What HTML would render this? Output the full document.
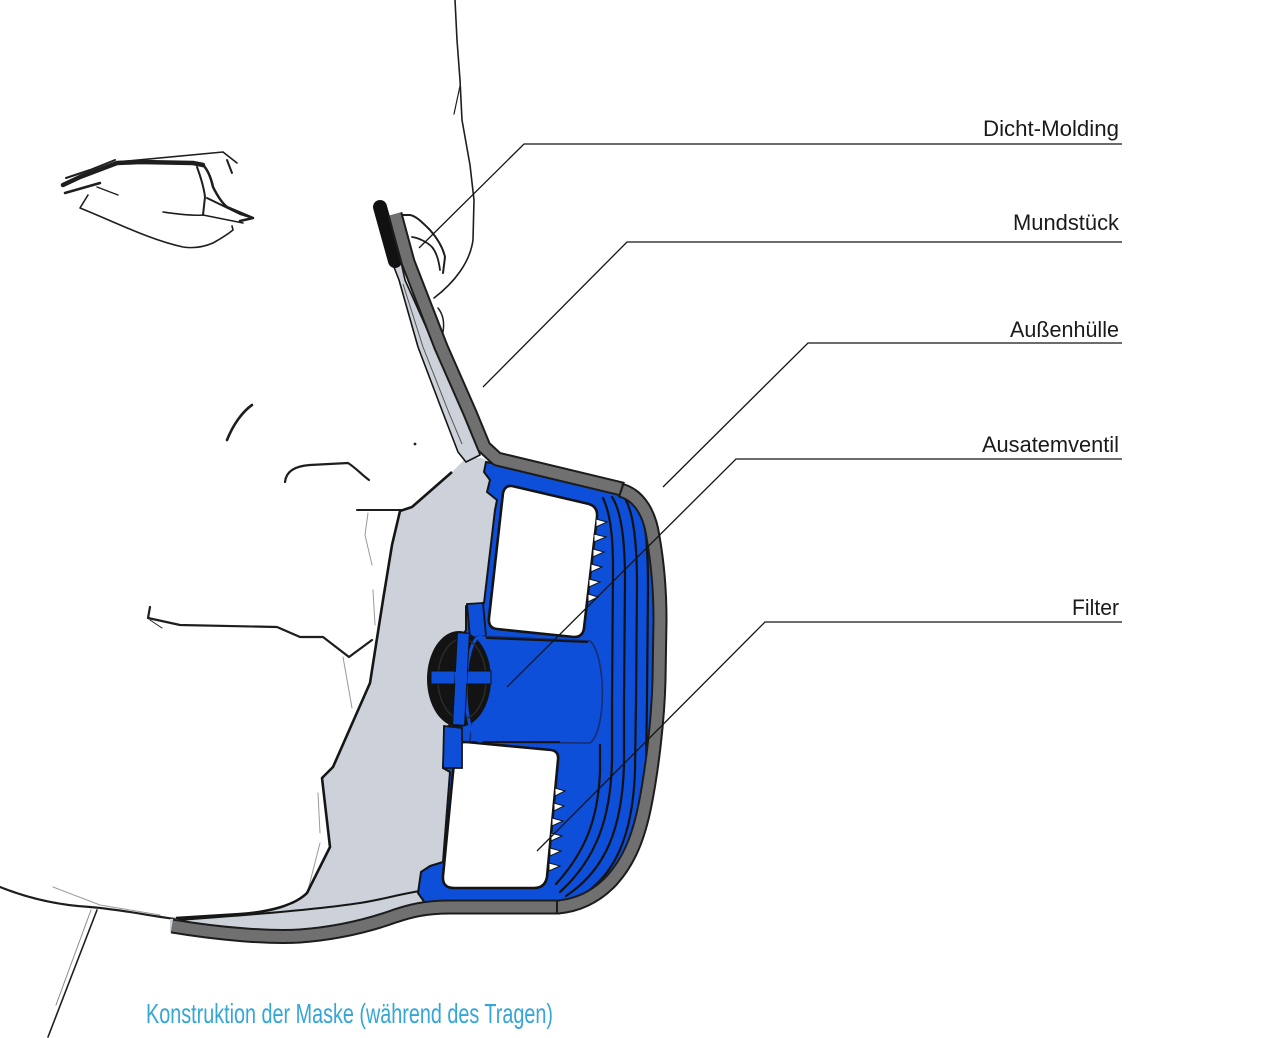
<!DOCTYPE html>
<html>
<head>
<meta charset="utf-8">
<style>
html,body{margin:0;padding:0;background:#fff;}
svg{display:block;}
</style>
</head>
<body>
<svg width="1264" height="1038" viewBox="0 0 1264 1038" xmlns="http://www.w3.org/2000/svg">
<rect width="1264" height="1038" fill="#ffffff"/>

<!-- ===== Face line drawing ===== -->
<g fill="none" stroke="#1e1e1e" stroke-linecap="round" stroke-linejoin="round">
  <path d="M455,0 L457,40 L460,80 L462,120 L470,165 L474,200 L473,240 C470,262 455,282 434,298" stroke-width="1.6"/>
  <path d="M460,86 L454,114" stroke-width="1.2"/>
  <!-- eye -->
  <path d="M63,185 L80,177 L117,163 L140,162 L193,163 L203,165" stroke-width="4.5"/>
  <path d="M66,178 L90,170 L115,160" stroke-width="2"/>
  <path d="M65,193 L100,183" stroke-width="2.5"/>
  <path d="M117,162 L223,152 L237,163" stroke-width="1.6"/>
  <path d="M227,160 L232,173" stroke-width="2"/>
  <path d="M203,165 C208,170 211,178 213,187 C218,197 222,203 227,207 L253,218 L240,221" stroke-width="2.5"/>
  <path d="M197,167 C201,178 204,188 205,197 L203,215" stroke-width="2"/>
  <path d="M207,198 L240,214 L253,218" stroke-width="2"/>
  <path d="M163,212 C178,214 192,216 203,215 L243,223" stroke-width="1.6"/>
  <path d="M97,187 L118,195" stroke-width="1.4"/>
  <path d="M88,195 L80,208 C115,222 150,240 183,247 C196,249 206,246 213,243 C222,238 228,234 233,230 L232,226" stroke-width="1.6"/>
  <!-- nose -->
  <path d="M227,440 C233,425 242,412 252,405" stroke-width="2.6"/>
  <circle cx="415" cy="444" r="1.4" fill="#1e1e1e" stroke="none"/>
  <!-- upper lip -->
  <path d="M285,482 C286,471 295,466 310,465 L348,463 C356,468 362,475 369,480" stroke-width="2.2"/>
  <path d="M357,510 L402,510" stroke-width="2"/>
  <!-- mouth -->
  <path d="M150,607 L148,618 L180,625 L277,627 L300,637 L323,637 L349,657 L372,640" stroke-width="2.2"/>
  <path d="M150,620 L162,628" stroke-width="1"/>
  <!-- faint cheek lines -->
  <g stroke="#9a9a9a" stroke-width="1">
    <path d="M368,513 L365,535 L372,565"/>
    <path d="M373,590 L375,625"/>
    <path d="M343,657 L352,708"/>
    <path d="M318,793 L320,833"/>
    <path d="M320,843 L308,890"/>
    <path d="M53,887 L100,905 L160,915"/>
  </g>
  <!-- jaw -->
  <path d="M0,887 C25,897 55,905 90,907 C125,910 150,916 176,919" stroke-width="2.2"/>
  <!-- neck -->
  <path d="M97,910 L48,1037" stroke-width="1.6"/>
  <path d="M91,910 L56,1005" stroke="#8a8a8a" stroke-width="1"/>
  <!-- molding curls -->
  <path d="M398,215 L410,215 C416,216 422,222 430,230 C437,238 443,248 445,257 L443,273" stroke-width="2"/>
  <path d="M412,237 C419,238 427,242 432,247 C437,253 439,262 440,270" stroke-width="1.8"/>
  <path d="M438,308 C442,313 445,320 443,332" stroke-width="1.5"/>
</g>

<!-- ===== Light grey contact region ===== -->
<polygon points="466,458 452,472 412,507 400,511 392,545 383,600 370,683 333,767 322,778 330,847 307,893 290,906 255,913 200,917 170,919 170,932 300,933 400,912 420,905 505,905 505,470 482,458" fill="#cdd1d9"/>
<path d="M452,472 L412,507 L400,511 L392,545 L383,600 L370,683 L333,767 L322,778 L330,847 L307,893 C295,905 270,912 240,914 L176,918" fill="none" stroke="#161616" stroke-width="2.6" stroke-linejoin="round"/>
<path d="M178,920 C250,915 320,909 360,903 C385,899 400,894 420,891" fill="none" stroke="#161616" stroke-width="2"/>

<!-- ===== Blue body ===== -->
<polygon points="486,462 484,472 490,480 487,492 497,500 495,510 484,603 466,606 466,630 460,640 450,725 445,728 443,768 450,772 443,862 430,866 421,872 418,893 425,903 558,906 590,900 615,885 640,845 652,790 660,700 662,600 658,540 645,505 625,490" fill="#0d4fd8" stroke="#151515" stroke-width="2" stroke-linejoin="round"/>

<!-- ribs -->
<g fill="none" stroke="#121212" stroke-width="2.2" stroke-linecap="round">
  <path d="M603,498 C611,515 613,540 613,570 L612,700 L612,760 C611,820 595,860 560,892"/>
  <path d="M612,497 C622,512 625,545 625,580 L624,700 L624,765 C622,830 605,870 566,896"/>
  <path d="M622,494 C634,508 637,545 637,585 L636,700 L635,770 C633,835 615,878 576,899"/>
  <path d="M633,493 C645,505 648,545 648,585 L647,700 L646,770 C644,835 626,880 590,900"/>
  <path d="M600,745 L600,772 C598,820 585,852 556,884"/>
</g>

<!-- upper filter box -->
<path d="M512,486 L589,504 Q598,507 597,517 L584,628 Q583,637 574,637 L497,629 Q488,628 489,618 L503,493 Q505,485 512,486 Z" fill="#ffffff" stroke="#141414" stroke-width="2.6"/>
<!-- lower filter box -->
<path d="M466,742 L551,750 Q559,751 558,760 L547,877 Q545,888 534,888 L454,888 Q442,888 443,876 L455,752 Q456,742 466,742 Z" fill="#ffffff" stroke="#141414" stroke-width="2.6"/>

<!-- teeth -->
<g fill="#ffffff" stroke="#141414" stroke-width="1">
  <polygon points="596,519 607,522 596,527"/>
  <polygon points="594,534 606,537 594,542"/>
  <polygon points="593,549 604,552 593,557"/>
  <polygon points="591,564 602,567 591,572"/>
  <polygon points="589,579 600,582 589,587"/>
  <polygon points="588,594 598,597 588,602"/>
  <polygon points="555,788 565,791 555,796"/>
  <polygon points="554,803 564,806 554,811"/>
  <polygon points="552,818 563,821 552,826"/>
  <polygon points="551,833 562,836 551,841"/>
  <polygon points="550,848 561,851 550,856"/>
  <polygon points="549,863 560,866 549,871"/>
</g>

<!-- collars -->
<polygon points="467,604 483,603 486,636 470,638" fill="#0d4fd8" stroke="#151515" stroke-width="1.8"/>
<polygon points="444,726 462,728 462,768 443,768" fill="#0d4fd8" stroke="#151515" stroke-width="1.8"/>

<!-- tube -->
<path d="M478,636 L590,641 C606,655 607,730 590,743 L470,742 Z" fill="#0d4fd8" stroke="#1a2c6e" stroke-width="1.6"/>
<path d="M486,638 L588,642" stroke="#141414" stroke-width="2"/>
<path d="M468,742 L560,742" stroke="#141414" stroke-width="2"/>

<!-- valve -->
<ellipse cx="459" cy="679" rx="32" ry="48" fill="#131313"/>
<ellipse cx="480" cy="689" rx="14" ry="52" fill="none" stroke="#0d4fd8" stroke-width="3"/>
<ellipse cx="462" cy="679" rx="24" ry="40" fill="none" stroke="#2b2b2b" stroke-width="1.5"/>
<rect x="431" y="671" width="60" height="13" fill="#0d4fd8" stroke="#111" stroke-width="1"/>
<rect x="455" y="633" width="12" height="92" fill="#0d4fd8" stroke="#111" stroke-width="1" transform="rotate(3 461 679)"/>
<rect x="455" y="672" width="12" height="11" fill="#0d4fd8"/>

<!-- ===== Outer shell (Außenhülle) ===== -->
<g fill="none" stroke-linejoin="round">
  <!-- light mouthpiece band on upper arm -->
  <polygon points="392,262 399,280 418,347 443,413 458,452 466,462 480,455 465,413 435,347 405,280 401,262" fill="#cdd1d9" stroke="#161616" stroke-width="1.6"/>
  <path d="M403,284 L423,347 L449,413 L462,444" stroke="#555" stroke-width="1"/>
  <!-- black sealing molding -->
  <path d="M380,207 L395,261" stroke="#111" stroke-width="14" stroke-linecap="round"/>
  <!-- dark shell upper arm -->
  <path d="M395,214 L408,262 L441,347 L470,413 L484,447 L497,459 L622,489" stroke="#1c1c1c" stroke-width="15"/>
  <path d="M395,214 L408,262 L441,347 L470,413 L484,447 L497,459 L622,489" stroke="#707070" stroke-width="11"/>
  <!-- right curved part -->
  <path d="M620,490 C640,495 650,515 653,537 C658,565 660,590 660,620 L659,680 C658,720 652,770 645,805 C638,840 628,862 612,880 C598,895 580,905 558,907" stroke="#1c1c1c" stroke-width="15"/>
  <path d="M620,490 C640,495 650,515 653,537 C658,565 660,590 660,620 L659,680 C658,720 652,770 645,805 C638,840 628,862 612,880 C598,895 580,905 558,907" stroke="#707070" stroke-width="11"/>
  <!-- bottom part -->
  <path d="M560,907 L450,907 C425,907 410,911 395,916 C370,925 340,933 300,936 C270,938 220,934 172,926" stroke="#1c1c1c" stroke-width="15"/>
  <path d="M560,907 L450,907 C425,907 410,911 395,916 C370,925 340,933 300,936 C270,938 220,934 172,926" stroke="#707070" stroke-width="11"/>
  <!-- joints -->
  <path d="M624,482 L619,497" stroke="#1c1c1c" stroke-width="2"/>
  <path d="M557,900 L557,914" stroke="#1c1c1c" stroke-width="2"/>
</g>

<!-- ===== Leader lines ===== -->
<g fill="none" stroke="#151515" stroke-width="1.3">
  <polyline points="1122,144 524,144 419,248"/>
  <polyline points="1122,242 627,242 483,387"/>
  <polyline points="1122,343 808,343 663,487"/>
  <polyline points="1122,459 736,459 507,687"/>
  <polyline points="1122,622 765,622 537,851"/>
</g>

<!-- ===== Labels ===== -->
<g font-family="'Liberation Sans', 'DejaVu Sans', sans-serif" font-size="22" fill="#1a1a1a" text-anchor="end">
  <text x="1119" y="136" textLength="136" lengthAdjust="spacingAndGlyphs">Dicht-Molding</text>
  <text x="1119" y="230" textLength="106" lengthAdjust="spacingAndGlyphs">Mundstück</text>
  <text x="1119" y="337" textLength="109" lengthAdjust="spacingAndGlyphs">Außenhülle</text>
  <text x="1119" y="452" textLength="137" lengthAdjust="spacingAndGlyphs">Ausatemventil</text>
  <text x="1119" y="615" textLength="47" lengthAdjust="spacingAndGlyphs">Filter</text>
</g>

<!-- caption -->
<text x="146" y="1023" font-family="'Liberation Sans Narrow', 'Liberation Sans', sans-serif" font-size="28" fill="#35a6d6" textLength="407" lengthAdjust="spacingAndGlyphs">Konstruktion der Maske (während des Tragen)</text>
</svg>
</body>
</html>
